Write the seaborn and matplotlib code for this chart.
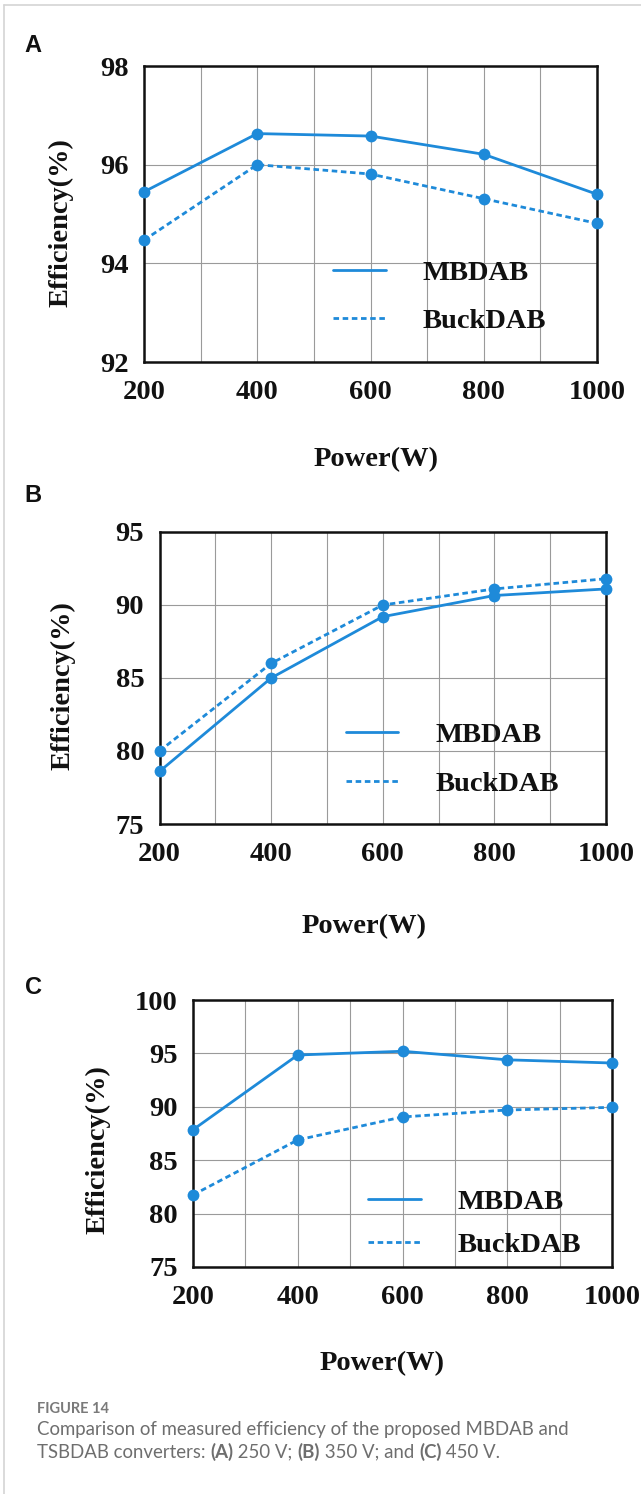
import matplotlib
matplotlib.use("Agg")
import matplotlib.pyplot as plt
from matplotlib.lines import Line2D
from matplotlib.ticker import MultipleLocator
import seaborn as sns
import pandas as pd

# ---------------- data ----------------
power = [200, 400, 600, 800, 1000]
a_mbdab = [95.45, 96.63, 96.58, 96.21, 95.40]
a_buck = [94.47, 96.00, 95.81, 95.31, 94.81]
b_mbdab = [78.6, 85.0, 89.2, 90.65, 91.1]
b_buck = [80.0, 86.0, 90.0, 91.1, 91.8]
c_mbdab = [87.85, 94.85, 95.2, 94.4, 94.1]
c_buck = [81.75, 86.9, 89.05, 89.7, 89.95]
series_names = ["MBDAB", "BuckDAB"]
panel_letters = ["A", "B", "C"]
x_ticks = [200, 400, 600, 800, 1000]
ylims = [(92, 98, 2), (75, 95, 5), (75, 100, 5)]
xlabel = "Power(W)"
ylabel = "Efficiency(%)"
caption_title = "FIGURE 14"

sns.set_theme(style="white")
W, H = 641, 1494
DPI = 100
fig = plt.figure(figsize=(W / DPI, H / DPI), dpi=DPI)

BLUE = "#1e8ad9"
SERIF = "Liberation Serif"
FS = 20.5
LW = 2.0
DASH = (0, (2.0, 1.3))

def px_axes(l, r, t, b):
    return fig.add_axes([l / W, 1 - b / H, (r - l) / W, (b - t) / H])

panels = [
    dict(box=(144, 597, 66, 362), m=a_mbdab, bk=a_buck,
         leg=(0.417, 0.22), lsp=0.78, xl=(0.512, -0.331), yl=(-0.183, 0.47),
         letter=(33, 46)),
    dict(box=(159.5, 606, 532, 824), m=b_mbdab, bk=b_buck,
         leg=(0.417, 0.221), lsp=0.78, xl=(0.458, -0.353), yl=(-0.216, 0.473),
         letter=(33, 495)),
    dict(box=(193, 612, 1000, 1267), m=c_mbdab, bk=c_buck,
         leg=(0.418, 0.163), lsp=0.62, xl=(0.451, -0.36), yl=(-0.227, 0.438),
         letter=(33, 987)),
]

for i, p in enumerate(panels):
    ax = px_axes(*p["box"])
    df = pd.DataFrame({"Power": power * 2,
                       "Eff": p["m"] + p["bk"],
                       "Series": [series_names[0]] * 5 + [series_names[1]] * 5})
    sns.lineplot(data=df[df.Series == series_names[0]], x="Power", y="Eff",
                 ax=ax, color=BLUE, lw=LW, marker="o", markersize=8.5,
                 markeredgewidth=0, legend=False, zorder=3, clip_on=False)
    sns.lineplot(data=df[df.Series == series_names[1]], x="Power", y="Eff",
                 ax=ax, color=BLUE, lw=LW, marker="o", markersize=8.5,
                 markeredgewidth=0, legend=False, zorder=3, clip_on=False,
                 linestyle=DASH)
    lo, hi, step = ylims[i]
    ax.set_xlim(200, 1000)
    ax.set_ylim(lo, hi)
    ax.set_xticks(x_ticks)
    ax.xaxis.set_minor_locator(MultipleLocator(100))
    ax.yaxis.set_major_locator(MultipleLocator(step))
    ax.grid(True, which="both", axis="x", color="#9a9a9a", lw=0.8)
    ax.grid(True, which="major", axis="y", color="#9a9a9a", lw=0.8)
    ax.set_axisbelow(True)
    for s in ax.spines.values():
        s.set_color("#111111")
        s.set_linewidth(1.8)
    ax.tick_params(axis="both", which="both", length=0)
    ax.tick_params(axis="x", pad=13)
    ax.tick_params(axis="y", pad=11)
    for lab in ax.get_xticklabels() + ax.get_yticklabels():
        lab.set_fontfamily(SERIF)
        lab.set_fontweight("bold")
        lab.set_fontsize(FS)
        lab.set_color("#111111")
    ax.set_xlabel(xlabel, fontfamily=SERIF, fontweight="bold", fontsize=FS,
                  color="#111111")
    ax.set_ylabel(ylabel, fontfamily=SERIF, fontweight="bold", fontsize=FS,
                  color="#111111")
    ax.xaxis.label.set_va("center")
    ax.yaxis.label.set_va("center")
    ax.xaxis.set_label_coords(*p["xl"])
    ax.yaxis.set_label_coords(*p["yl"])

    handles = [Line2D([], [], color=BLUE, lw=LW),
               Line2D([], [], color=BLUE, lw=LW, linestyle=DASH)]
    ax.legend(handles, series_names, loc="center left",
              bbox_to_anchor=p["leg"], frameon=False, borderpad=0,
              borderaxespad=0,
              handlelength=1.85, handletextpad=1.3, labelspacing=p["lsp"],
              prop=dict(family=SERIF, weight="bold", size=FS))
    for t in ax.get_legend().get_texts():
        t.set_color("#111111")

    lx, ly = p["letter"]
    fig.text(lx / W, 1 - ly / H, panel_letters[i], ha="center", va="center",
             fontfamily="Liberation Sans", fontweight="bold", fontsize=17,
             color="#111111")

# border lines
fig.add_artist(Line2D([4 / W, 1], [1 - 5 / H, 1 - 5 / H], color="#d4d4d4", lw=1.2))
fig.add_artist(Line2D([4 / W, 4 / W], [0, 1 - 5 / H], color="#d4d4d4", lw=1.2))

# caption
CAP_FONT = "Lato"
CAP_COLOR = "#6e6e6e"
fig.text(37 / W, 1 - 1409 / H, caption_title, ha="left", va="center",
         fontfamily=CAP_FONT, fontweight="bold", fontsize=10.5, color="#7a7a7a")

line1 = [("Comparison of measured efficiency of the proposed MBDAB and", "normal")]
line2 = [("TSBDAB converters: ", "normal"), ("(A)", "bold"), (" 250 V; ", "normal"),
         ("(B)", "bold"), (" 350 V; and ", "normal"), ("(C)", "bold"), (" 450 V.", "normal")]

fig.canvas.draw()
renderer = fig.canvas.get_renderer()
for yy, pieces in [(1429, line1), (1452, line2)]:
    x = 37
    for txt, wt in pieces:
        t = fig.text(x / W, 1 - yy / H, txt, ha="left", va="center",
                     fontfamily=CAP_FONT, fontweight=wt, fontsize=13.4,
                     color=CAP_COLOR)
        bb = t.get_window_extent(renderer=renderer)
        x += bb.width

fig.savefig("out.png", dpi=DPI)
